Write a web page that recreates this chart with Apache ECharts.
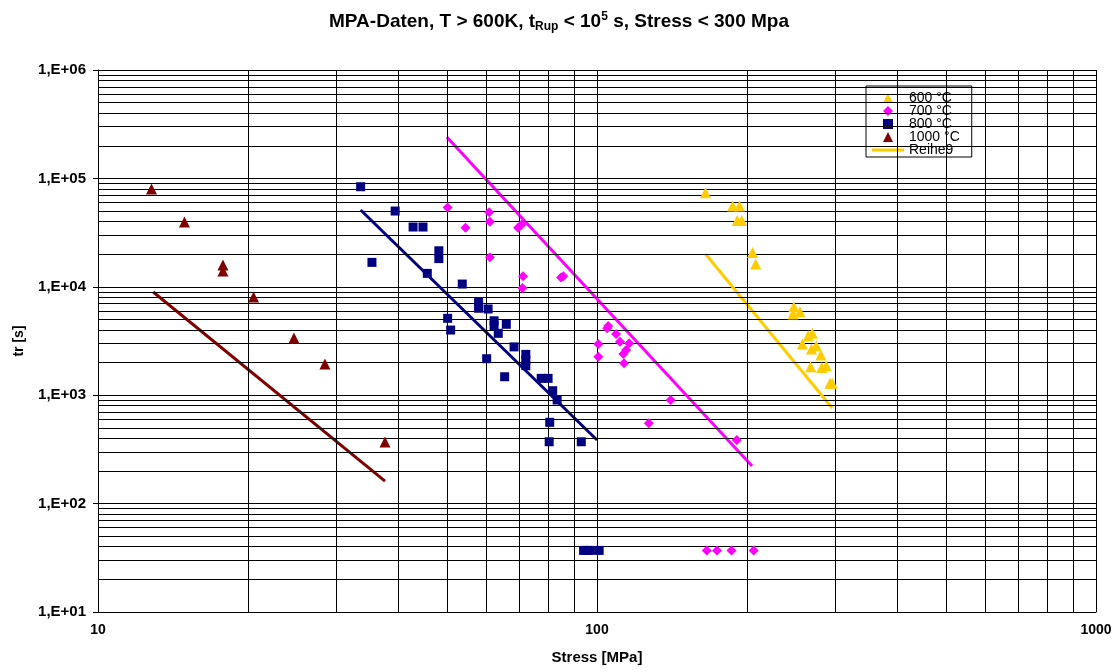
<!DOCTYPE html>
<html>
<head>
<meta charset="utf-8">
<script src="https://cdn.jsdelivr.net/npm/echarts@6/dist/echarts.min.js"></script>
<style>
  html, body { margin: 0; padding: 0; background: #fff; }
  #chart { width: 1118px; height: 672px; }
</style>
</head>
<body>
<div id="chart"></div>
<script>
// [stress MPa, rupture time s]
const data600 = [
  [165, 73800], [187, 55600], [193, 55600], [191, 40800], [195, 40800],
  [205, 20700], [208, 16200], [248, 6550], [247, 5610], [255, 5890],
  [265, 3540], [270, 3720], [258, 2970], [269, 2670], [275, 2860],
  [281, 2350], [268, 1830], [282, 1800], [288, 1870], [293, 1290], [296, 1290]
];
const data700 = [
  [50.2, 54000], [60.8, 48600], [61, 39800], [54.5, 35100], [69.5, 35100],
  [70.6, 37600], [61, 18700], [71.1, 12500], [70.9, 9750], [84.7, 12200],
  [85.6, 12500], [105.3, 4340], [104.8, 4140], [109.2, 3670], [111.2, 3120],
  [116, 3010], [114.4, 2610], [112.9, 2400], [113.3, 1970], [100.6, 2970],
  [100.6, 2260], [140.5, 903], [127, 551], [190.6, 386],
  [166, 37], [174, 37], [186, 37], [206, 37]
];
const data800 = [
  [33.6, 83800], [39.4, 50000], [42.8, 35600], [44.8, 35600], [35.4, 16800],
  [48.2, 21500], [48.2, 18200], [45.7, 13300], [53.7, 10600], [57.9, 7300],
  [57.9, 6340], [60.5, 6240], [62.2, 4860], [62.2, 4380], [65.8, 4510],
  [63.4, 3720], [50.2, 5120], [50.9, 3990], [68.2, 2790], [72, 2380],
  [72, 2110], [72, 1870], [60.1, 2170], [65.3, 1480], [77.3, 1430],
  [79.8, 1430], [81.5, 1100], [83.2, 903], [80.4, 562], [80.2, 372], [93, 372],
  [94, 37], [95.5, 37], [97, 37], [101, 37]
];
const data1000 = [
  [12.8, 79800], [14.9, 39600], [17.8, 15900], [17.8, 14000], [20.5, 8050],
  [24.7, 3370], [28.5, 1940], [37.6, 370]
];
// trend lines
const line600 = [[165, 20100], [296, 762]];
const line700 = [[50, 241000], [204.5, 222]];
const line800 = [[33.6, 51100], [100, 386]];
const line1000 = [[12.9, 8950], [37.6, 161]];

const xMajor = [10, 100, 1000];
const yMajor = [10, 100, 1000, 10000, 100000, 1000000];
const steps = [2, 3, 4, 5, 6, 7, 8, 9];
const xMinor = [];
const yMinor = [];
xMajor.slice(0, -1).forEach((d) => steps.forEach((k) => xMinor.push(k * d)));
yMajor.slice(0, -1).forEach((d) => steps.forEach((k) => yMinor.push(k * d)));

const font = 'Liberation Sans, Arial, sans-serif';

// legend icons, kept square so they are not stretched
const iconTriangle = 'path://M5,0L10,10L0,10Z';
const iconDiamond = 'path://M5,0L10,5L5,10L0,5Z';
const iconSquare = 'path://M1,1H9V9H1Z';
const iconLine = 'path://M0,0h32v3h-32z';

const chart = echarts.init(document.getElementById('chart'));

const scatter = (name, symbol, size, color, data) => ({
  name,
  type: 'scatter',
  symbol,
  symbolSize: size,
  itemStyle: { color, opacity: 1 },
  data,
  z: 5,
});
const trend = (name, color, data) => ({
  name,
  type: 'line',
  symbol: 'none',
  symbolKeepAspect: true,
  lineStyle: { color, width: 3 },
  itemStyle: { color },
  data,
  z: 4,
});

chart.setOption({
  animation: false,
  backgroundColor: '#fff',
  title: {
    text: 'MPA-Daten, T > 600K, t{sub|Rup} < 10{sup|5} s, Stress < 300 Mpa',
    left: 'center',
    top: 5,
    textStyle: {
      fontFamily: font,
      fontSize: 19,
      fontWeight: 'bold',
      color: '#000',
      rich: {
        sub: { fontFamily: font, fontSize: 12, fontWeight: 'bold', padding: [11, 0, 0, 0] },
        sup: { fontFamily: font, fontSize: 12, fontWeight: 'bold', padding: [0, 0, 10, 0] },
      },
    },
  },
  legend: {
    orient: 'vertical',
    left: 866,
    top: 86,
    padding: [5, 12, 0, 6],
    itemGap: -1,
    itemWidth: 32,
    itemHeight: 10,
    symbolKeepAspect: true,
    backgroundColor: '#fff',
    borderColor: '#000',
    borderWidth: 1,
    textStyle: { fontFamily: font, fontSize: 14, color: '#000' },
    data: [
      { name: '600 °C', icon: iconTriangle },
      { name: '700 °C', icon: iconDiamond },
      { name: '800 °C', icon: iconSquare },
      { name: '1000 °C', icon: iconTriangle },
      { name: 'Reihe9', icon: iconLine },
    ],
  },
  grid: { left: 98, right: 22, top: 70, bottom: 60 },
  xAxis: {
    type: 'log',
    logBase: 10,
    min: 10,
    max: 1000,
    name: 'Stress [MPa]',
    nameLocation: 'middle',
    nameGap: 38,
    nameTextStyle: { fontFamily: font, fontSize: 15, fontWeight: 'bold', color: '#000' },
    axisLine: { lineStyle: { color: '#000', width: 1 } },
    axisTick: { show: false },
    axisLabel: {
      fontFamily: font, fontSize: 14, fontWeight: 'bold', color: '#000', margin: 11,
      formatter: (v) => String(v),
    },
    splitLine: { show: true, lineStyle: { color: '#000', width: 1 } },
  },
  yAxis: {
    type: 'log',
    logBase: 10,
    min: 10,
    max: 1000000,
    name: 'tr [s]',
    nameLocation: 'middle',
    nameRotate: 90,
    nameGap: 72,
    nameTextStyle: { fontFamily: font, fontSize: 14, fontWeight: 'bold', color: '#000' },
    axisLine: { show: true, lineStyle: { color: '#000', width: 1 } },
    axisTick: { show: true, length: 5, lineStyle: { color: '#000' } },
    axisLabel: {
      fontFamily: font, fontSize: 15, fontWeight: 'bold', color: '#000', margin: 12,
      formatter: (v) => {
        const e = Math.round(Math.log10(v));
        return '1,E+' + (e < 10 ? '0' + e : e);
      },
    },
    splitLine: { show: true, lineStyle: { color: '#000', width: 1 } },
  },
  series: [
    {
      name: 'grid',
      type: 'scatter',
      data: [],
      silent: true,
      z: 1,
      markLine: {
        silent: true,
        symbol: ['none', 'none'],
        label: { show: false },
        lineStyle: { color: '#000', width: 1, type: 'solid' },
        emphasis: { disabled: true },
        data: xMinor.map((v) => ({ xAxis: v })).concat(yMinor.map((v) => ({ yAxis: v }))),
      },
    },
    scatter('600 °C', 'triangle', 11, '#FFCC00', data600),
    scatter('700 °C', 'diamond', 10, '#FF00FF', data700),
    scatter('800 °C', 'rect', 9, '#000080', data800),
    scatter('1000 °C', 'triangle', 11, '#800000', data1000),
    trend('Reihe9', '#FFCC00', line600),
    trend('Trend 700', '#FF00FF', line700),
    trend('Trend 800', '#000080', line800),
    trend('Trend 1000', '#800000', line1000),
  ],
});
</script>
</body>
</html>
